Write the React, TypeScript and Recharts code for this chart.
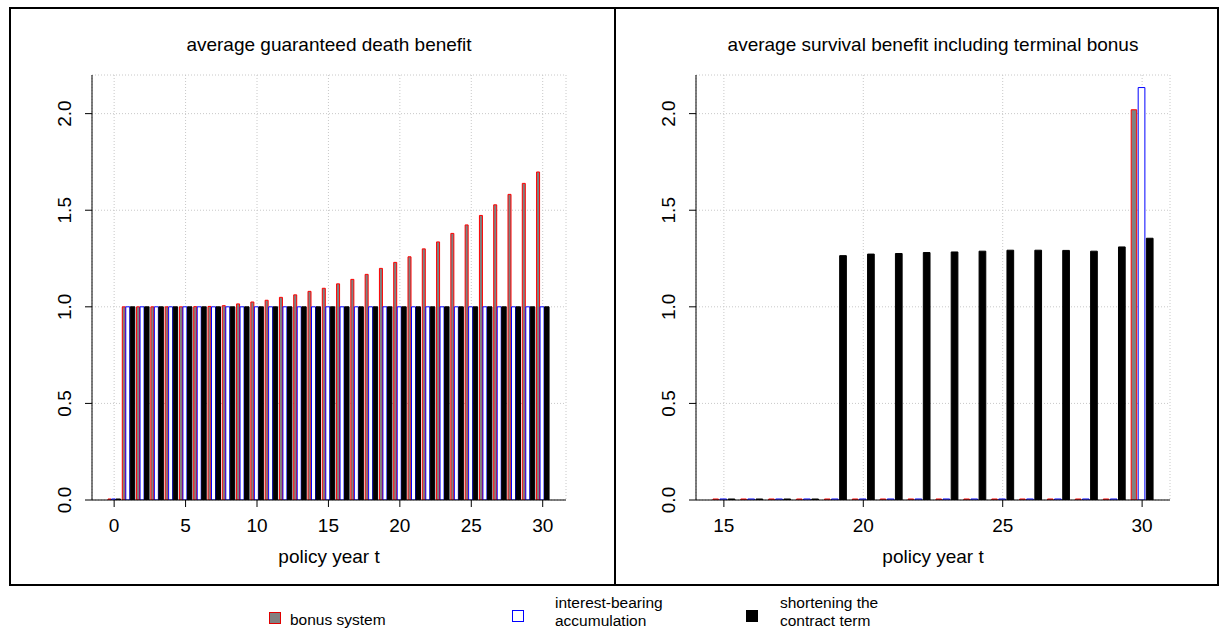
import React from 'react';
import { BarChart, Bar, XAxis, YAxis, CartesianGrid } from 'recharts';

const FONT = '"Liberation Sans", Arial, Helvetica, sans-serif';

// Left panel: average guaranteed death benefit, policy years 0..30
const deathYears = [0, 1, 2, 3, 4, 5, 6, 7, 8, 9, 10, 11, 12, 13, 14, 15, 16, 17, 18, 19, 20, 21, 22, 23, 24, 25, 26, 27, 28, 29, 30];
const deathBonus = [0, 1, 1, 1, 1, 1, 1.001, 1.002, 1.006, 1.015, 1.025, 1.034, 1.049, 1.062, 1.08, 1.096, 1.119, 1.142, 1.168, 1.199, 1.23, 1.259, 1.3, 1.336, 1.38, 1.424, 1.473, 1.528, 1.582, 1.639, 1.698];
const deathInterest = [0, 1, 1, 1, 1, 1, 1, 1, 1, 1, 1, 1, 1, 1, 1, 1, 1, 1, 1, 1, 1, 1, 1, 1, 1, 1, 1, 1, 1, 1, 1];
const deathShortening = [0, 1, 1, 1, 1, 1, 1, 1, 1, 1, 1, 1, 1, 1, 1, 1, 1, 1, 1, 1, 1, 1, 1, 1, 1, 1, 1, 1, 1, 1, 1];

// Right panel: average survival benefit including terminal bonus, policy years 15..30
const survivalYears = [15, 16, 17, 18, 19, 20, 21, 22, 23, 24, 25, 26, 27, 28, 29, 30];
const survivalBonus = [0, 0, 0, 0, 0, 0, 0, 0, 0, 0, 0, 0, 0, 0, 0, 2.02];
const survivalInterest = [0, 0, 0, 0, 0, 0, 0, 0, 0, 0, 0, 0, 0, 0, 0, 2.135];
const survivalShortening = [0, 0, 0, 0, 1.265, 1.273, 1.276, 1.281, 1.284, 1.288, 1.293, 1.293, 1.292, 1.288, 1.31, 1.355];

const deathTicks = [0, 5, 10, 15, 20, 25, 30];
const survivalTicks = [15, 20, 25, 30];
const valueTicks = [0, 0.5, 1, 1.5, 2];

const buildRows = (years: number[], bonus: number[], interest: number[], shortening: number[]) =>
  years.map((t, i) => ({ t, bonus: bonus[i], interest: interest[i], shortening: shortening[i] }));

const deathData = buildRows(deathYears, deathBonus, deathInterest, deathShortening);
const survivalData = buildRows(survivalYears, survivalBonus, survivalInterest, survivalShortening);

const XTick = (props: any) => {
  const { x, y, payload } = props;
  return (
    <text x={x} y={y + 23} textAnchor="middle" fontSize={19} fontFamily={FONT} fill="#000">
      {payload.value}
    </text>
  );
};

const YTick = (props: any) => {
  const { x, y, payload } = props;
  const tx = x - 12;
  return (
    <text
      x={tx}
      y={y}
      transform={`rotate(-90, ${tx}, ${y})`}
      textAnchor="middle"
      fontSize={19}
      fontFamily={FONT}
      fill="#000"
    >
      {Number(payload.value).toFixed(1)}
    </text>
  );
};

type PanelProps = {
  left: number;
  width: number;
  marginLeft: number;
  marginRight: number;
  title: string;
  data: any[];
  domain: [number, number];
  ticks: number[];
  sizes: [number, number, number];
  gap: number;
};

function Panel({ left, width, marginLeft, marginRight, title, data, domain, ticks, sizes, gap }: PanelProps) {
  // plot area spans x = marginLeft + 60 .. width - marginRight
  const plotLeft = marginLeft + 60;
  const plotWidth = width - marginRight - plotLeft;
  return (
    <div style={{ position: 'absolute', left, top: 8, width, height: 577 }}>
      <BarChart
        width={width}
        height={577}
        data={data}
        barGap={gap}
        margin={{ top: 67, right: marginRight, bottom: 15, left: marginLeft }}
      >
        <CartesianGrid stroke="#c8c8c8" strokeDasharray="1 2" />
        <XAxis
          type="number"
          dataKey="t"
          domain={domain}
          ticks={ticks}
          interval={0}
          allowDataOverflow
          height={70}
          tickSize={7}
          axisLine={{ stroke: '#000' }}
          tickLine={{ stroke: '#000' }}
          tick={<XTick />}
          label={{ value: 'policy year t', position: 'insideBottom', offset: 7, fontSize: 19, fill: '#000', fontFamily: FONT }}
        />
        <XAxis
          xAxisId="top"
          orientation="top"
          type="number"
          dataKey="t"
          domain={domain}
          allowDataOverflow
          height={0}
          tick={false}
          tickLine={false}
          axisLine={{ stroke: '#000' }}
        />
        <YAxis
          type="number"
          domain={[0, 2.2]}
          ticks={valueTicks}
          interval={0}
          allowDataOverflow
          width={60}
          tickSize={7}
          axisLine={{ stroke: '#000' }}
          tickLine={{ stroke: '#000' }}
          tick={<YTick />}
        />
        <YAxis
          yAxisId="right"
          orientation="right"
          type="number"
          domain={[0, 2.2]}
          width={0}
          tick={false}
          tickLine={false}
          axisLine={{ stroke: '#000' }}
        />
        <Bar dataKey="bonus" fill="#808080" stroke="#ff0000" strokeWidth={1} barSize={sizes[0]} minPointSize={1} isAnimationActive={false} />
        <Bar dataKey="interest" fill="#ffffff" stroke="#0000ff" strokeWidth={1} barSize={sizes[1]} minPointSize={1} isAnimationActive={false} />
        <Bar dataKey="shortening" fill="#000000" stroke="#000000" strokeWidth={1} barSize={sizes[2]} minPointSize={1} isAnimationActive={false} />
      </BarChart>
      <div
        style={{
          position: 'absolute',
          left: plotLeft,
          top: 27,
          width: plotWidth,
          textAlign: 'center',
          fontFamily: FONT,
          fontSize: 19,
          lineHeight: '19px',
          color: '#000',
          whiteSpace: 'nowrap',
        }}
      >
        {title}
      </div>
    </div>
  );
}

const legendText: React.CSSProperties = {
  position: 'absolute',
  fontFamily: FONT,
  fontSize: 15.5,
  lineHeight: '18px',
  color: '#000',
  whiteSpace: 'nowrap',
};

export default function App() {
  return (
    <div style={{ position: 'absolute', left: 0, top: 0, width: 1220, height: 644, background: '#fff', overflow: 'hidden' }}>
      <Panel
        left={10}
        width={605}
        marginLeft={22}
        marginRight={49}
        title="average guaranteed death benefit"
        data={deathData}
        domain={[-1.55, 31.63]}
        ticks={deathTicks}
        sizes={[3, 4, 4.5]}
        gap={0.5}
      />
      <Panel
        left={616}
        width={602}
        marginLeft={20}
        marginRight={48}
        title="average survival benefit including terminal bonus"
        data={survivalData}
        domain={[14, 31]}
        ticks={survivalTicks}
        sizes={[5.5, 6.7, 6.7]}
        gap={1.5}
      />
      {/* panel frames */}
      <div style={{ position: 'absolute', left: 9, top: 7, width: 1210, height: 579, border: '2px solid #000', boxSizing: 'border-box' }} />
      <div style={{ position: 'absolute', left: 614, top: 7, width: 2, height: 579, background: '#000' }} />

      {/* legend */}
      <div style={{ position: 'absolute', left: 269, top: 612, width: 12, height: 12, background: '#808080', border: '1px solid #e00000', boxSizing: 'border-box' }} />
      <div style={{ ...legendText, left: 290, top: 611 }}>bonus system</div>
      <div style={{ position: 'absolute', left: 512, top: 610, width: 12, height: 12, background: '#fff', border: '1px solid #0000ff', boxSizing: 'border-box' }} />
      <div style={{ ...legendText, left: 555, top: 594 }}>interest-bearing<br />accumulation</div>
      <div style={{ position: 'absolute', left: 746, top: 610, width: 12, height: 12, background: '#000', border: '1px solid #000', boxSizing: 'border-box' }} />
      <div style={{ ...legendText, left: 780, top: 594 }}>shortening the<br />contract term</div>
    </div>
  );
}
